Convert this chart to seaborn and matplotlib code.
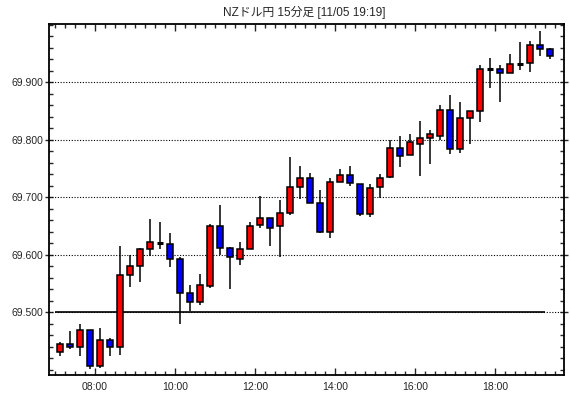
import numpy as np
import pandas as pd
import matplotlib
matplotlib.use("Agg")
import matplotlib.pyplot as plt
from matplotlib.ticker import MultipleLocator, FixedLocator
import seaborn as sns

# 15分足 (07:00 ~ 19:15)
opens = [69.430, 69.444, 69.439, 69.468, 69.407, 69.451, 69.440, 69.564, 69.580, 69.609,
         69.620, 69.619, 69.593, 69.533, 69.518, 69.546, 69.649, 69.611, 69.593, 69.609,
         69.651, 69.663, 69.649, 69.672, 69.717, 69.734, 69.689, 69.640, 69.727, 69.738,
         69.722, 69.670, 69.717, 69.735, 69.785, 69.774, 69.793, 69.802, 69.807, 69.851,
         69.783, 69.837, 69.849, 69.922, 69.922, 69.915, 69.932, 69.933, 69.964, 69.957]
closes = [69.444, 69.439, 69.468, 69.407, 69.451, 69.440, 69.564, 69.580, 69.610, 69.621,
          69.620, 69.593, 69.533, 69.518, 69.547, 69.649, 69.611, 69.596, 69.609, 69.649,
          69.663, 69.647, 69.672, 69.717, 69.734, 69.689, 69.640, 69.727, 69.738, 69.724,
          69.670, 69.715, 69.734, 69.785, 69.772, 69.795, 69.802, 69.809, 69.851, 69.783,
          69.837, 69.849, 69.922, 69.922, 69.915, 69.931, 69.932, 69.964, 69.957, 69.946]
highs = [69.448, 69.467, 69.479, 69.469, 69.473, 69.455, 69.615, 69.600, 69.611, 69.662,
         69.657, 69.637, 69.596, 69.547, 69.566, 69.653, 69.687, 69.614, 69.621, 69.656,
         69.701, 69.664, 69.695, 69.770, 69.754, 69.741, 69.713, 69.734, 69.748, 69.754,
         69.723, 69.722, 69.740, 69.799, 69.806, 69.809, 69.832, 69.817, 69.860, 69.877,
         69.865, 69.850, 69.930, 69.941, 69.930, 69.949, 69.970, 69.971, 69.988, 69.960]
lows = [69.424, 69.436, 69.424, 69.401, 69.403, 69.424, 69.426, 69.544, 69.553, 69.598,
        69.609, 69.579, 69.480, 69.501, 69.513, 69.542, 69.599, 69.540, 69.581, 69.609,
        69.646, 69.615, 69.596, 69.669, 69.696, 69.689, 69.638, 69.629, 69.726, 69.720,
        69.667, 69.666, 69.699, 69.734, 69.752, 69.774, 69.737, 69.757, 69.799, 69.775,
        69.777, 69.793, 69.831, 69.890, 69.865, 69.915, 69.921, 69.917, 69.946, 69.940]

times = pd.date_range("2020-11-05 07:00", periods=len(opens), freq="15min")
title = "NZドル円 15分足 [11/05 19:19]"

sns.set_style("ticks")
plt.rcParams['font.family'] = ['Liberation Sans', 'Noto Sans CJK JP', 'DejaVu Sans']

df = pd.DataFrame({"open": opens, "close": closes, "high": highs, "low": lows}, index=times)
hrs = df.index.hour + df.index.minute / 60
xc = np.asarray(hrs) + 0.125  # 足の中心

fig = plt.figure(figsize=(5.7, 3.98), dpi=100)
ax = fig.add_axes([49 / 570, 23 / 398, 515 / 570, 351 / 398])

# グリッド (点線)
for lv in [69.5, 69.6, 69.7, 69.8, 69.9]:
    ax.axhline(lv, color="black", lw=0.8, ls=(0, (1, 1.5)), zorder=1)
ax.hlines(69.5, 7.0, 19.25, color="black", lw=1.2, zorder=1)

# ヒゲ
ax.vlines(xc, df["low"], df["high"], color="black", lw=1.1, zorder=2)

# 実体
w = 0.16
up = df["close"] > df["open"]
down = df["close"] < df["open"]
body_lo = np.minimum(df["open"], df["close"])
body_h = np.abs(df["close"] - df["open"])
ax.bar(xc[up], body_h[up], bottom=body_lo[up], width=w, color="#ff0000",
       edgecolor="black", linewidth=1.1, zorder=3)
ax.bar(xc[down], body_h[down], bottom=body_lo[down], width=w, color="#0000ff",
       edgecolor="black", linewidth=1.1, zorder=3)
doji = df["close"] == df["open"]
ax.hlines(df["open"][doji], xc[doji] - w / 2, xc[doji] + w / 2, color="black", lw=2.2, zorder=3)

ax.set_xlim(6.85, 19.725)
ax.set_ylim(69.3905, 70.001)

ax.xaxis.set_major_locator(FixedLocator([8, 10, 12, 14, 16, 18]))
ax.set_xticklabels(["08:00", "10:00", "12:00", "14:00", "16:00", "18:00"])
ax.xaxis.set_minor_locator(MultipleLocator(0.25))
ax.yaxis.set_major_locator(FixedLocator([69.5, 69.6, 69.7, 69.8, 69.9]))
ax.set_yticklabels(["69.500", "69.600", "69.700", "69.800", "69.900"])
ax.yaxis.set_minor_locator(MultipleLocator(0.02))

ax.tick_params(axis="x", which="major", direction="in", length=5, width=1,
               top=True, bottom=True, labelsize=7.5, pad=5)
ax.tick_params(axis="x", which="minor", direction="in", length=3, width=1, top=True, bottom=True)
ax.tick_params(axis="y", which="major", direction="inout", length=6, width=1,
               left=True, right=True, labelsize=7.5, pad=1)
ax.tick_params(axis="y", which="minor", direction="in", length=3, width=1, left=True, right=True)

for sp in ax.spines.values():
    sp.set_linewidth(1.3)
    sp.set_color("black")

fig.text(304 / 570, 1 - 12 / 398, title, ha="center", va="center", fontsize=8.5)

fig.savefig("out.png", dpi=100)
